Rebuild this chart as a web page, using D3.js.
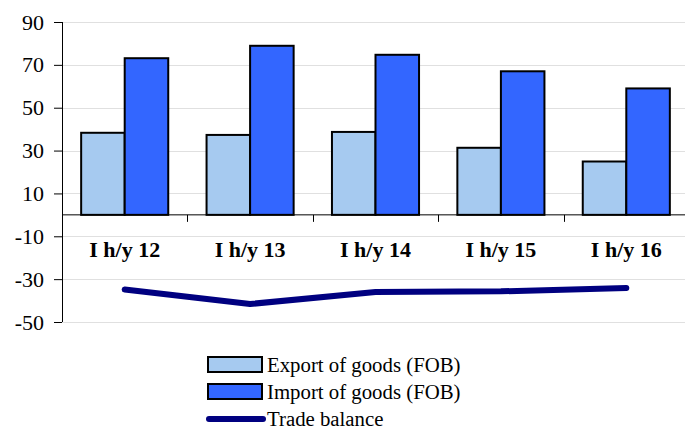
<!DOCTYPE html>
<html><head><meta charset="utf-8">
<script src="https://cdn.jsdelivr.net/npm/d3@7"></script>
<style>body{margin:0;background:#fff}svg{display:block}</style>
</head><body><svg id="c" width="685" height="430"></svg>
<script>
const categories = ["I h/y 12","I h/y 13","I h/y 14","I h/y 15","I h/y 16"];
const exportGoods = [38.3, 37.3, 38.7, 31.3, 24.9];
const importGoods = [73.1, 78.9, 74.7, 67.0, 59.0];
const tradeBalance = [-34.8, -41.6, -36.0, -35.7, -34.1];
const yTicks = [90, 70, 50, 30, 10, -10, -30, -50];
const seriesNames = ["Export of goods (FOB)","Import of goods (FOB)","Trade balance"];
const colors = {exp:"#A6CAF0", imp:"#3366FF", line:"#000080"};

(function(){
const svg = d3.select("#c");
const font = "'Liberation Serif','Times New Roman',serif";
const pL = 62, pR = 689, pT = 22, pB = 322;
const y = d3.scaleLinear().domain([-50, 90]).range([pB, pT]);
const x = d3.scaleBand().domain(categories).range([pL, pR]).paddingInner(0).paddingOuter(0);
const inner = d3.scaleBand().domain(["exp","imp"]).range([0, x.bandwidth()]).paddingOuter(0.44).paddingInner(0);

// gridlines
svg.append("g").selectAll("line").data(yTicks).join("line")
  .attr("x1", pL).attr("x2", 685).attr("y1", d=>Math.round(y(d))+0.5).attr("y2", d=>Math.round(y(d))+0.5)
  .attr("stroke", "#e0e0e0").attr("stroke-width", 1);

// y axis
const yAxis = svg.append("g").attr("transform", `translate(${pL},0)`)
  .call(d3.axisLeft(y).tickValues(yTicks).tickSize(8).tickPadding(10).tickFormat(d=>String(d)));
yAxis.attr("font-family", font).attr("font-size", 22);
yAxis.select(".domain").attr("d", `M0.5,${pT}V${pB}`).attr("stroke","#000");
yAxis.selectAll(".tick line").attr("stroke","#000");
yAxis.selectAll("text").attr("font-family", font).attr("font-size", 22).attr("fill","#000");

// bars
const g = svg.append("g");
categories.forEach((c,i)=>{
  [["exp", exportGoods[i]],["imp", importGoods[i]]].forEach(([k,v])=>{
    g.append("rect")
      .attr("x", x(c)+inner(k)).attr("width", inner.bandwidth())
      .attr("y", y(Math.max(0,v))).attr("height", Math.abs(y(v)-y(0)))
      .attr("fill", colors[k]).attr("stroke","#000").attr("stroke-width",2);
  });
});

// x axis at 0
const xAxis = svg.append("g").attr("transform", `translate(0,${y(0)})`);
xAxis.append("line").attr("x1", pL).attr("x2", 685).attr("y1",0).attr("y2",0).attr("stroke","#000").attr("stroke-width",1);
xAxis.selectAll(".tk").data(categories.slice(1)).join("line")
  .attr("x1", d=>Math.round(x(d))+0.5).attr("x2", d=>Math.round(x(d))+0.5).attr("y1",0).attr("y2",7).attr("stroke","#000");
xAxis.selectAll("text").data(categories).join("text")
  .attr("x", d=>x(d)+x.bandwidth()/2).attr("y", 42)
  .attr("text-anchor","middle").attr("font-family", font).attr("font-weight","bold").attr("font-size",22)
  .text(d=>d);

// line
svg.append("path").datum(tradeBalance)
  .attr("d", d3.line().x((d,i)=>x(categories[i])+x.bandwidth()/2).y(d=>y(d)))
  .attr("fill","none").attr("stroke", colors.line).attr("stroke-width",6).attr("stroke-linecap","round").attr("stroke-linejoin","round");

// legend
const lg = svg.append("g").attr("font-family", font).attr("font-size", 20.8);
const baselines = [372, 399, 426];
[["exp",0],["imp",1]].forEach(([k,i])=>{
  lg.append("rect").attr("x",208).attr("y",baselines[i]-15).attr("width",54).attr("height",15)
    .attr("fill",colors[k]).attr("stroke","#000").attr("stroke-width",2);
});
lg.append("line").attr("x1",209).attr("x2",263).attr("y1",419).attr("y2",419)
  .attr("stroke",colors.line).attr("stroke-width",6).attr("stroke-linecap","round");
seriesNames.forEach((s,i)=>{
  lg.append("text").attr("x",267).attr("y",baselines[i]).text(s);
});
})();
</script></body></html>
